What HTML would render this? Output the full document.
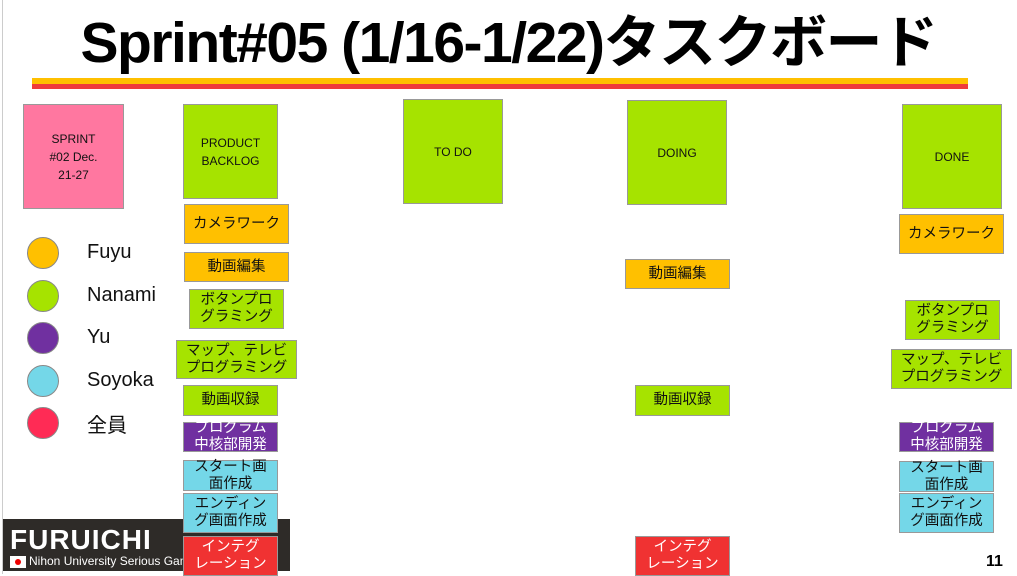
<!DOCTYPE html>
<html><head><meta charset="utf-8"><style>
body{margin:0;width:1017px;height:574px;background:#fff;position:relative;overflow:hidden;font-family:"Liberation Sans","Noto Sans CJK JP",sans-serif}
.b{position:absolute;box-sizing:border-box;border:1px solid #999;display:flex;align-items:center;justify-content:center;text-align:center;font-size:14.5px;line-height:17px;color:#111}
.o{background:#ffc000}.g{background:#a6e300}.p{background:#7030a0;color:#fff}.c{background:#74d7e8}.r{background:#f03232;color:#fff}
.h{font-size:12px;line-height:18px}
.dot{position:absolute;width:32px;height:32px;border-radius:50%;border:1px solid #888;box-sizing:border-box}
.lab{position:absolute;left:87px;font-size:20px;color:#111}
</style></head><body>
<div style="position:absolute;left:2px;top:0;width:1px;height:574px;background:#ccc"></div>
<div style="position:absolute;left:0;top:4px;width:1017px;text-align:center;font-size:57px;font-weight:bold;line-height:78px;color:#000;letter-spacing:-1.5px">Sprint#05 (1/16-1/22)タスクボード</div>
<div style="position:absolute;left:32px;top:78px;width:936px;height:6px;background:#ffc000"></div>
<div style="position:absolute;left:32px;top:84px;width:936px;height:5px;background:#ef3b3b"></div>

<div class="b h" style="left:23px;top:104px;width:101px;height:105px;background:#ff77a0">SPRINT<br>#02 Dec.<br>21-27</div>
<div class="b g h" style="left:183px;top:104px;width:95px;height:95px">PRODUCT<br>BACKLOG</div>
<div class="b g h" style="left:403px;top:99px;width:100px;height:105px">TO DO</div>
<div class="b g h" style="left:627px;top:100px;width:100px;height:105px">DOING</div>
<div class="b g h" style="left:902px;top:104px;width:100px;height:105px">DONE</div>

<div class="dot" style="left:27px;top:237px;background:#ffc000"></div><div class="lab" style="top:241px">Fuyu</div>
<div class="dot" style="left:27px;top:280px;background:#a6e300"></div><div class="lab" style="top:284px">Nanami</div>
<div class="dot" style="left:27px;top:322px;background:#7030a0"></div><div class="lab" style="top:326px">Yu</div>
<div class="dot" style="left:27px;top:365px;background:#74d7e8"></div><div class="lab" style="top:369px">Soyoka</div>
<div class="dot" style="left:27px;top:407px;background:#ff2b55"></div><div class="lab" style="top:409px">全員</div>

<div style="position:absolute;left:3px;top:519px;width:287px;height:52px;background:#2e2b28"></div>
<div style="position:absolute;left:10px;top:524px;color:#fff;font-weight:bold;font-size:28px;letter-spacing:1px">FURUICHI</div>
<div style="position:absolute;left:10px;top:556px;width:16px;height:12px;background:#fff"></div>
<div style="position:absolute;left:15px;top:559px;width:6px;height:6px;border-radius:50%;background:#e00"></div>
<div style="position:absolute;left:29px;top:554px;color:#fff;font-size:12px">Nihon University Serious Game</div>

<div class="b o" style="left:184px;top:204px;width:105px;height:40px">カメラワーク</div>
<div class="b o" style="left:184px;top:252px;width:105px;height:30px">動画編集</div>
<div class="b g" style="left:189px;top:289px;width:95px;height:40px">ボタンプロ<br>グラミング</div>
<div class="b g" style="left:176px;top:340px;width:121px;height:39px">マップ、テレビ<br>プログラミング</div>
<div class="b g" style="left:183px;top:385px;width:95px;height:31px">動画収録</div>
<div class="b p" style="left:183px;top:422px;width:95px;height:30px">プログラム<br>中核部開発</div>
<div class="b c" style="left:183px;top:460px;width:95px;height:31px">スタート画<br>面作成</div>
<div class="b c" style="left:183px;top:493px;width:95px;height:40px">エンディン<br>グ画面作成</div>
<div class="b r" style="left:183px;top:536px;width:95px;height:40px">インテグ<br>レーション</div>

<div class="b o" style="left:625px;top:259px;width:105px;height:30px">動画編集</div>
<div class="b g" style="left:635px;top:385px;width:95px;height:31px">動画収録</div>
<div class="b r" style="left:635px;top:536px;width:95px;height:40px">インテグ<br>レーション</div>

<div class="b o" style="left:899px;top:214px;width:105px;height:40px">カメラワーク</div>
<div class="b g" style="left:905px;top:300px;width:95px;height:40px">ボタンプロ<br>グラミング</div>
<div class="b g" style="left:891px;top:349px;width:121px;height:40px">マップ、テレビ<br>プログラミング</div>
<div class="b p" style="left:899px;top:422px;width:95px;height:30px">プログラム<br>中核部開発</div>
<div class="b c" style="left:899px;top:461px;width:95px;height:31px">スタート画<br>面作成</div>
<div class="b c" style="left:899px;top:493px;width:95px;height:40px">エンディン<br>グ画面作成</div>

<div style="position:absolute;left:986px;top:553px;font-weight:bold;font-size:16px">11</div>
</body></html>
